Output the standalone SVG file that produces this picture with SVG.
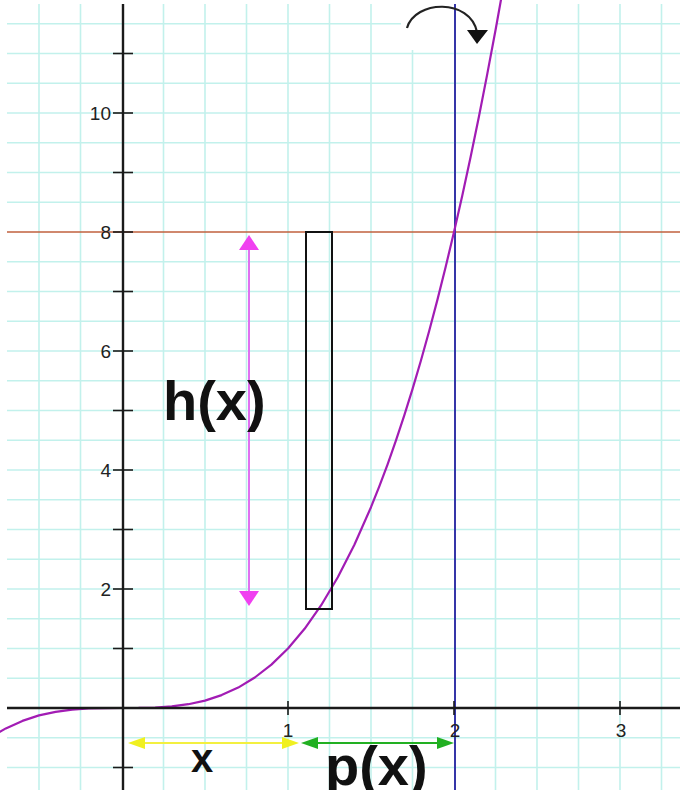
<svg xmlns="http://www.w3.org/2000/svg" width="680" height="790" viewBox="0 0 680 790">
<style>
.grid line{stroke:#c2f1ec;stroke-width:1.6}
.axis{stroke:#1a1a1a;stroke-width:2.4;fill:none}
.tick{stroke:#1a1a1a;stroke-width:1.6}
.num{font-family:"Liberation Sans",Arial,sans-serif;font-size:19px;fill:#222}
.lbl{font-family:"Liberation Sans",Arial,sans-serif;font-weight:bold;fill:#111}
</style>
<defs>
<clipPath id="area"><rect x="7" y="4" width="673" height="786"/></clipPath>
</defs>
<rect x="0" y="0" width="680" height="790" fill="#fff"/>
<g id="grid" class="grid" clip-path="url(#area)">
<line x1="39" y1="0" x2="39" y2="790"/><line x1="80.5" y1="0" x2="80.5" y2="790"/><line x1="163.5" y1="0" x2="163.5" y2="790"/><line x1="205" y1="0" x2="205" y2="790"/><line x1="246.5" y1="0" x2="246.5" y2="790"/><line x1="288" y1="0" x2="288" y2="790"/><line x1="329.5" y1="0" x2="329.5" y2="790"/><line x1="371" y1="0" x2="371" y2="790"/><line x1="412.5" y1="0" x2="412.5" y2="790"/><line x1="495.5" y1="0" x2="495.5" y2="790"/><line x1="537" y1="0" x2="537" y2="790"/><line x1="578.5" y1="0" x2="578.5" y2="790"/><line x1="620" y1="0" x2="620" y2="790"/><line x1="661.5" y1="0" x2="661.5" y2="790"/>
<line x1="0" y1="767.5" x2="680" y2="767.5"/><line x1="0" y1="737.75" x2="680" y2="737.75"/><line x1="0" y1="678.25" x2="680" y2="678.25"/><line x1="0" y1="648.5" x2="680" y2="648.5"/><line x1="0" y1="618.75" x2="680" y2="618.75"/><line x1="0" y1="589" x2="680" y2="589"/><line x1="0" y1="559.25" x2="680" y2="559.25"/><line x1="0" y1="529.5" x2="680" y2="529.5"/><line x1="0" y1="499.75" x2="680" y2="499.75"/><line x1="0" y1="470" x2="680" y2="470"/><line x1="0" y1="440.25" x2="680" y2="440.25"/><line x1="0" y1="410.5" x2="680" y2="410.5"/><line x1="0" y1="380.75" x2="680" y2="380.75"/><line x1="0" y1="351" x2="680" y2="351"/><line x1="0" y1="321.25" x2="680" y2="321.25"/><line x1="0" y1="291.5" x2="680" y2="291.5"/><line x1="0" y1="261.75" x2="680" y2="261.75"/><line x1="0" y1="202.25" x2="680" y2="202.25"/><line x1="0" y1="172.5" x2="680" y2="172.5"/><line x1="0" y1="142.75" x2="680" y2="142.75"/><line x1="0" y1="113" x2="680" y2="113"/><line x1="0" y1="83.25" x2="680" y2="83.25"/><line x1="0" y1="53.5" x2="680" y2="53.5"/><line x1="0" y1="23.75" x2="680" y2="23.75"/>
</g>
<rect x="401" y="0" width="96" height="50" fill="#fff"/>
<g id="lines">
<line id="y8" x1="7" y1="232" x2="680" y2="232" stroke="#c0603e" stroke-width="1.6"/>
<line id="x2line" x1="455" y1="4" x2="455" y2="790" stroke="#3535a8" stroke-width="2"/>
</g>
<g id="curve">
<polyline fill="none" stroke="#a21cb4" stroke-width="2.2" stroke-linejoin="round" points="-0.8,732.1 5.8,728.4 22.4,720.9 39,715.4 55.6,711.8 72.2,709.6 88.8,708.5 105.4,708.06 122,708 138.6,707.94 155.2,707.5 171.8,706.4 188.4,704.2 205,700.6 221.6,695.1 238.2,687.6 254.8,677.5 271.4,664.6 288,648.5 304.6,628.8 321.2,605.2 337.8,577.3 354.4,544.7 371,507.2 379.3,486.4 387.6,464.3 395.9,440.7 404.2,415.7 412.5,389.1 420.8,361 429.1,331.3 437.4,299.9 445.7,266.8 454,232 462.3,195.4 470.6,157 478.9,116.7 487.2,74.4 495.5,30.3 503.8,-15.9"/>
</g>
<g id="axes">
<line class="axis" x1="123" y1="4" x2="123" y2="790"/>
<line class="axis" x1="7" y1="708" x2="680" y2="708"/>
<g class="ticks">
<line class="tick" x1="113" y1="767.5" x2="133" y2="767.5"/><line class="tick" x1="113" y1="648.5" x2="133" y2="648.5"/><line class="tick" x1="113" y1="589" x2="133" y2="589"/><line class="tick" x1="113" y1="529.5" x2="133" y2="529.5"/><line class="tick" x1="113" y1="470" x2="133" y2="470"/><line class="tick" x1="113" y1="410.5" x2="133" y2="410.5"/><line class="tick" x1="113" y1="351" x2="133" y2="351"/><line class="tick" x1="113" y1="291.5" x2="133" y2="291.5"/><line class="tick" x1="113" y1="232" x2="133" y2="232"/><line class="tick" x1="113" y1="172.5" x2="133" y2="172.5"/><line class="tick" x1="113" y1="113" x2="133" y2="113"/><line class="tick" x1="113" y1="53.5" x2="133" y2="53.5"/>
<line class="tick" x1="288" y1="701" x2="288" y2="715"/><line class="tick" x1="454" y1="701" x2="454" y2="715"/><line class="tick" x1="620" y1="701" x2="620" y2="715"/>
</g>
<g class="num">
<text x="111" y="120" text-anchor="end">10</text>
<text x="111" y="239" text-anchor="end">8</text>
<text x="111" y="358" text-anchor="end">6</text>
<text x="111" y="477" text-anchor="end">4</text>
<text x="111" y="596" text-anchor="end">2</text>
<text x="288" y="737" text-anchor="middle">1</text>
<text x="455" y="737" text-anchor="middle">2</text>
<text x="621" y="737" text-anchor="middle">3</text>
</g>
</g>
<g id="strip">
<rect x="306" y="232" width="26" height="377" fill="none" stroke="#111" stroke-width="2"/>
</g>
<g id="connectors">
<g id="h-arrow">
<line x1="249" y1="246" x2="249" y2="593" stroke="#e070f0" stroke-width="2"/>
<polygon points="249,235 239,250 259,250" fill="#f040f0"/>
<polygon points="249,606 239,591 259,591" fill="#f040f0"/>
</g>
<g id="x-arrow">
<line x1="140" y1="743" x2="287" y2="743" stroke="#f3f040" stroke-width="2"/>
<polygon points="128,743 145,737 145,749" fill="#f0f020"/>
<polygon points="299,743 282,737 282,749" fill="#f0f020"/>
</g>
<g id="p-arrow">
<line x1="312" y1="743" x2="443" y2="743" stroke="#22b022" stroke-width="2"/>
<polygon points="301,743 318,737 318,749" fill="#22b022"/>
<polygon points="454,743 437,737 437,749" fill="#22b022"/>
</g>
<g id="rotation">
<path d="M407,28 C415,0 470,-2 477,32" fill="none" stroke="#222" stroke-width="2.2"/>
<polygon points="467,30 488,30 477,44" fill="#111"/>
</g>
</g>
<g id="labels">
<text class="lbl" x="163" y="420" font-size="56">h(x)</text>
<text class="lbl" x="191" y="772" font-size="40">x</text>
<text class="lbl" x="325" y="785" font-size="56">p(x)</text>
</g>
</svg>
